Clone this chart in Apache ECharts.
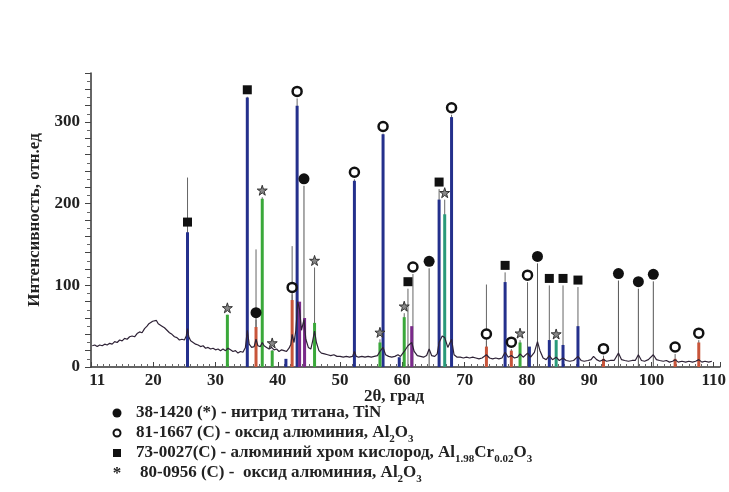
<!DOCTYPE html>
<html>
<head>
<meta charset="UTF-8">
<title>XRD</title>
<script src="https://cdn.jsdelivr.net/npm/echarts@6/dist/echarts.min.js"></script>
<style>
html, body { margin: 0; padding: 0; background: #fff; }
</style>
</head>
<body>
<div id="main" style="width: 729px;height:492px;"></div>
<script type="text/javascript">
var FONT = '"Liberation Serif", "DejaVu Serif", serif';

// measured profile (2theta, intensity)
var profile = [[10.2,26],[10.6,27],[11,25],[11.4,27],[11.8,26],[12.2,28],[12.6,27],[13,29],[13.4,28],[13.8,31],[14.2,30],[14.6,33],[15,32],[15.4,35],[15.8,34],[16.2,37],[16.6,38],[17,37],[17.4,41],[17.8,43],[18.2,42],[18.6,47],[19,50],[19.3,53],[19.6,51],[19.9,56],[20.2,55],[20.5,57],[20.8,53],[21.1,54],[21.4,50],[21.8,48],[22.2,45],[22.6,42],[23,40],[23.4,37],[23.8,36],[24.2,33],[24.6,34],[25,33],[25.3,38],[25.5,47],[25.7,37],[26,32],[26.4,30],[26.8,28],[27.2,27],[27.6,25],[28,26],[28.4,23],[28.8,24],[29.2,22],[29.6,23],[30,21],[30.4,22],[30.8,20],[31.2,22],[31.6,20],[32,23],[32.4,21],[32.8,19],[33.2,20],[33.6,17],[34,19],[34.4,18],[34.8,24],[35.1,45],[35.4,28],[35.8,24],[36.2,25],[36.5,34],[36.8,26],[37.2,25],[37.5,30],[37.8,26],[38.2,24],[38.6,22],[39,24],[39.4,21],[39.8,22],[40.2,19],[40.6,21],[41,20],[41.4,19],[41.8,23],[42.1,28],[42.3,40],[42.6,30],[42.9,45],[43.2,80],[43.5,70],[43.8,45],[44.2,58],[44.5,34],[44.9,24],[45.3,22],[45.6,32],[45.9,44],[46.2,30],[46.6,20],[47,17],[47.5,16],[48,15],[48.5,14],[49,15],[49.5,13],[50,13],[50.5,12],[51,13],[51.5,12],[52,13],[52.3,19],[52.6,13],[53,12],[53.5,13],[54,12],[54.5,13],[55,12],[55.5,13],[56,14],[56.4,19],[56.9,24],[57.3,15],[57.8,13],[58.3,12],[58.8,13],[59.3,15],[59.7,13],[60.3,19],[60.9,26],[61.5,30],[61.9,19],[62.4,14],[62.9,13],[63.4,12],[63.9,14],[64.3,22],[64.7,14],[65.2,13],[65.6,16],[65.9,30],[66.4,38],[66.8,36],[67.3,24],[67.9,34],[68.3,15],[68.8,12],[69.3,12],[69.8,11],[70.3,12],[70.8,11],[71.3,12],[71.8,11],[72.3,10],[72.8,11],[73.5,15],[74,11],[74.5,10],[75,11],[75.5,10],[76,11],[76.5,18],[77,12],[77.5,14],[78,11],[78.5,12],[78.9,16],[79.4,12],[80.1,17],[80.6,12],[81.2,18],[81.7,31],[82.1,20],[82.6,11],[83.1,9],[83.6,14],[84.1,9],[84.7,12],[85.2,8],[85.8,11],[86.3,8],[86.9,7],[87.5,8],[88.2,13],[88.7,8],[89.2,7],[89.8,8],[90.3,9],[90.7,13],[91.2,9],[91.7,7],[92.3,9],[92.8,7],[93.4,8],[94,8],[94.7,17],[95.2,9],[95.7,8],[96.3,7],[96.9,8],[97.4,8],[97.9,15],[98.4,8],[98.9,7],[99.5,9],[100.3,15],[100.8,9],[101.3,8],[101.9,7],[102.4,8],[102.9,6],[103.4,7],[103.8,9],[104.3,6],[104.9,7],[105.5,6],[106,7],[106.6,6],[107.1,7],[107.6,9],[108.1,6],[108.6,7],[109.2,6],[109.7,7]];

// phase markers (2theta, marker height)
var tinPeaks = [[36.5,64],[44.2,228],[64.3,127],[81.7,133],[94.7,112],[97.9,102],[100.3,111]];
var al2o3Peaks = [[42.3,95],[43.1,335],[52.3,236],[56.9,292],[61.7,120],[67.9,315],[73.5,38],[77.5,28],[80.1,110],[92.3,20],[103.8,22],[107.6,39]];
var alcrPeaks = [[25.5,175],[35.1,337],[60.9,102],[65.9,224],[76.5,122],[83.6,106],[85.8,106],[88.2,104]];
var corPeaks = [[31.9,70],[37.5,214],[39.1,27],[45.9,128],[56.4,40],[60.3,72],[66.8,211],[78.9,39],[84.7,38]];

// extra thin reference lines without marker
var extraLines = [[25.5,232],[36.5,144],[42.3,148],[73.5,101]];

// coloured bars
var barNavy = [[25.5,165],[35.1,330],[43.1,320],[52.3,228],[56.9,285],[65.9,205],[67.9,306],[76.5,104],[83.6,33],[85.8,27],[88.2,50],[41.3,10],[59.5,12],[80.4,25]];
var barGreen = [[31.9,64],[37.5,206],[39.1,20],[45.9,54],[56.4,30],[60.3,61],[78.9,30]];
var barTeal = [[66.8,187],[84.7,33]];
var barRed = [[36.5,49],[42.3,82],[73.5,25],[77.5,20],[92.3,10],[103.8,10],[107.6,30]];
var barPurple = [[43.5,80],[44.3,60],[61.5,50]];

var xLabels = [11,20,30,40,50,60,70,80,90,100,110];
var yLabels = [0,100,200,300];

function sticks(data, color, width, topGap, z) {
	return {
		type: 'custom', data: data, z: z, silent: true,
		encode: { x: 0, y: 1 },
		renderItem: function (params, api) {
			var p0 = api.coord([api.value(0), 0]);
			var p1 = api.coord([api.value(0), api.value(1)]);
			return { type: 'line', shape: { x1: p0[0], y1: p0[1], x2: p1[0], y2: p1[1] + topGap },
				style: { stroke: color, lineWidth: width } };
		}
	};
}
function marks(data, symbol, size, fill, border, bw) {
	return {
		type: 'scatter', data: data, symbol: symbol, symbolSize: size, z: 10, silent: true,
		symbolOffset: [0, -2],
		itemStyle: { color: fill, borderColor: border, borderWidth: bw, opacity: 1 }
	};
}

var starPath = 'path://M50,0 L61,35 L98,35 L68,57 L79,91 L50,70 L21,91 L32,57 L2,35 L39,35 Z';

var sub = { font: 'bold 11px ' + FONT, fill: '#222', lineHeight: 11, padding: [10, 0, 0, 0], verticalAlign: 'top' };
var main = { font: 'bold 17px ' + FONT, fill: '#222', lineHeight: 19, verticalAlign: 'top' };

var chart = echarts.init(document.getElementById('main'));
chart.setOption({
	animation: false,
	backgroundColor: '#fff',
	grid: { left: 91, right: 6, top: 73, bottom: 125 },
	xAxis: {
		type: 'value', min: 10, max: 111, interval: 10,
		axisLine: { lineStyle: { color: '#333', width: 1.5 } },
		axisTick: { inside: true, length: 5, lineStyle: { color: '#444' } },
		minorTick: { show: true, splitNumber: 10, length: 3, lineStyle: { color: '#666' } },
		axisLabel: { customValues: xLabels, color: '#222', fontFamily: FONT, fontWeight: 'bold', fontSize: 17, margin: 5 },
		splitLine: { show: false }
	},
	yAxis: {
		type: 'value', min: 0, max: 360, interval: 20,
		name: 'Интенсивность, отн.ед', nameLocation: 'middle', nameGap: 47,
		nameTextStyle: { color: '#222', fontFamily: FONT, fontWeight: 'bold', fontSize: 17 },
		axisLine: { show: true, lineStyle: { color: '#333', width: 1.5 } },
		axisTick: { length: 6, lineStyle: { color: '#444' } },
		minorTick: { show: true, splitNumber: 2, length: 4, lineStyle: { color: '#666' } },
		axisLabel: { customValues: yLabels, color: '#222', fontFamily: FONT, fontWeight: 'bold', fontSize: 17, margin: 11 },
		splitLine: { show: false }
	},
	series: [
		sticks(extraLines, '#666', 1, 0, 1),
		sticks(tinPeaks, '#555', 1, 5, 2),
		sticks(al2o3Peaks, '#666', 1, 5, 2),
		sticks(alcrPeaks, '#666', 1, 5, 2),
		sticks(corPeaks, '#666', 1, 5, 2),
		sticks(barNavy, '#24308c', 3, 0, 3),
		sticks(barGreen, '#3aa83a', 3, 0, 3),
		sticks(barTeal, '#2a9a7a', 3, 0, 3),
		sticks(barRed, '#c8553a', 3, 0, 3),
		sticks(barPurple, '#7a2a8a', 3, 0, 3),
		{
			type: 'line', data: profile, showSymbol: false, silent: true, z: 5,
			lineStyle: { color: '#2e2236', width: 1.2 }
		},
		marks(tinPeaks, 'circle', 11, '#111', '#111', 0),
		marks(al2o3Peaks, 'circle', 9, '#fff', '#111', 2.5),
		marks(alcrPeaks, 'rect', 9, '#111', '#111', 0),
		marks(corPeaks, starPath, 10, '#888', '#333', 1)
	],
	graphic: [
		{ type: 'text', x: 394, y: 397, style: { text: '2θ, град', font: 'bold 17px ' + FONT, fill: '#222', textAlign: 'center', textVerticalAlign: 'middle' } },
		{ type: 'circle', shape: { cx: 117, cy: 413, r: 4.5 }, style: { fill: '#111' } },
		{ type: 'circle', shape: { cx: 117, cy: 433, r: 3.5 }, style: { fill: '#fff', stroke: '#111', lineWidth: 2 } },
		{ type: 'rect', shape: { x: 113, y: 449, width: 8, height: 8 }, style: { fill: '#111' } },
		{ type: 'text', x: 117, y: 474, style: { text: '*', font: 'bold 17px ' + FONT, fill: '#222', textAlign: 'center', textVerticalAlign: 'middle' } },
		{ type: 'text', x: 136, y: 413, style: { text: '38-1420 (*) - нитрид титана, TiN', font: 'bold 17px ' + FONT, fill: '#222', textVerticalAlign: 'middle' } },
		{ type: 'text', x: 136, y: 424, style: { text: '{m|81-1667 (C) - оксид алюминия, Al}{s|2}{m|O}{s|3}', rich: { m: main, s: sub } } },
		{ type: 'text', x: 136, y: 444, style: { text: '{m|73-0027(C) - алюминий хром кислород, Al}{s|1.98}{m|Cr}{s|0.02}{m|O}{s|3}', rich: { m: main, s: sub } } },
		{ type: 'text', x: 140, y: 464, style: { text: '{m|80-0956 (C) -  оксид алюминия, Al}{s|2}{m|O}{s|3}', rich: { m: main, s: sub } } }
	]
});
</script>
</body>
</html>
